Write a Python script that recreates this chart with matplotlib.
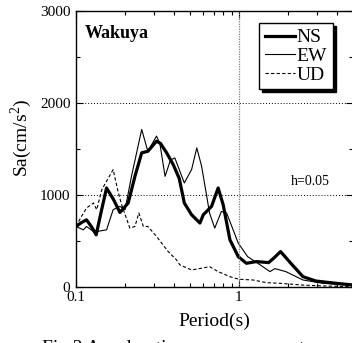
import numpy as np
import matplotlib
matplotlib.use("Agg")
import matplotlib.pyplot as plt

plt.rcParams['font.family'] = ['Liberation Serif', 'DejaVu Serif']
plt.rcParams['mathtext.fontset'] = 'custom'
plt.rcParams['mathtext.rm'] = 'Liberation Serif'

# response spectra (period in s, Sa in cm/s^2)
t_ns = [0.1, 0.108, 0.116, 0.125, 0.133, 0.142, 0.154, 0.17, 0.186, 0.209, 0.23, 0.253,
        0.276, 0.312, 0.33, 0.36, 0.395, 0.43, 0.462, 0.512, 0.576, 0.604, 0.679, 0.745,
        0.80, 0.88, 0.99, 1.11, 1.28, 1.52, 1.65, 1.80, 2.08, 2.47, 2.96, 3.94, 5.0]
sa_ns = [658, 700, 730, 650, 567, 800, 1076, 950, 810, 913, 1203, 1458,
         1475, 1585, 1560, 1458, 1330, 1180, 913, 785, 695, 785, 876, 1076,
         894, 513, 330, 258, 276, 265, 320, 385, 258, 112, 65, 40, 22]

t_ew = [0.1, 0.111, 0.116, 0.128, 0.134, 0.154, 0.169, 0.186, 0.2, 0.219, 0.253, 0.276,
        0.312, 0.327, 0.352, 0.38, 0.404, 0.462, 0.512, 0.551, 0.59, 0.66, 0.71, 0.78,
        0.84, 0.99, 1.13, 1.35, 1.55, 1.66, 1.94, 2.47, 3.27, 5.0]
sa_ew = [658, 621, 658, 603, 603, 621, 840, 876, 840, 1203, 1712, 1475,
         1640, 1560, 1203, 1380, 1403, 1131, 1276, 1512, 1312, 804, 640, 821,
         804, 477, 330, 240, 167, 200, 167, 76, 40, 18]

t_ud = [0.1, 0.108, 0.116, 0.128, 0.134, 0.144, 0.169, 0.18, 0.19, 0.202, 0.214, 0.23,
        0.243, 0.259, 0.276, 0.312, 0.368, 0.414, 0.434, 0.512, 0.59, 0.66, 0.745, 0.88,
        1.0, 1.22, 1.48, 1.78, 2.5, 3.5, 5.0]
sa_ud = [658, 767, 858, 913, 840, 1058, 1276, 1058, 900, 767, 640, 658,
         804, 658, 658, 549, 385, 294, 240, 185, 204, 221, 167, 112,
         84, 76, 47, 40, 20, 10, 5]

fig = plt.figure(figsize=(3.52, 3.43), dpi=100)
ax = fig.add_axes([0.2159, 0.1633, 0.7866, 0.8047])

ax.plot(t_ns, sa_ns, color='black', lw=2.3, label='NS')
ax.plot(t_ew, sa_ew, color='black', lw=0.8, label='EW')
ax.plot(t_ud, sa_ud, color='black', lw=0.8, ls=(0, (3, 2)), label='UD')

ax.set_xscale('log')
ax.set_xlim(0.1, 5)
ax.set_ylim(0, 3000)
ax.set_yticks([0, 1000, 2000, 3000])
ax.set_yticks([500, 1500, 2500], minor=True)
ax.set_xticks([0.1, 1])
ax.set_xticklabels(['0.1', '1'])
ax.tick_params(which='both', direction='in', top=True, right=True, labelsize=11)
ax.tick_params(which='major', length=5, width=0.8)
ax.tick_params(which='minor', length=3, width=0.8)
ax.tick_params(axis='x', pad=3)
ax.tick_params(axis='y', pad=4)

for y in [1000, 2000]:
    ax.axhline(y, color='black', lw=0.7, ls=(0, (1, 2)))
ax.axvline(1, color='gray', lw=0.9, ls=(0, (1, 1)))

for s in ax.spines.values():
    s.set_linewidth(1.0)

ax.set_xlabel('Period(s)', fontsize=14, labelpad=6)
ax.set_ylabel(r'Sa(cm/s$^2$)', fontsize=14)
ax.yaxis.set_label_coords(-0.15, 0.54)

ax.text(0.032, 0.902, 'Wakuya', transform=ax.transAxes, fontsize=13,
        fontweight='bold', va='baseline')
ax.text(0.776, 0.37, 'h=0.05', transform=ax.transAxes, fontsize=10, va='baseline')

leg = ax.legend(loc='upper right', bbox_to_anchor=(0.928, 0.9565), borderaxespad=0,
                fontsize=14, frameon=True, fancybox=False,
                shadow={'shade': 1.0, 'alpha': 1.0},
                edgecolor='black', handlelength=1.55, handletextpad=0.1,
                labelspacing=0.05, borderpad=0.3)
leg.get_frame().set_linewidth(1.0)

fig.text(0.12, 0.008, 'Fig.3 Acceleration response spectra', fontsize=14, va='top')

fig.savefig('out.png', dpi=100)
